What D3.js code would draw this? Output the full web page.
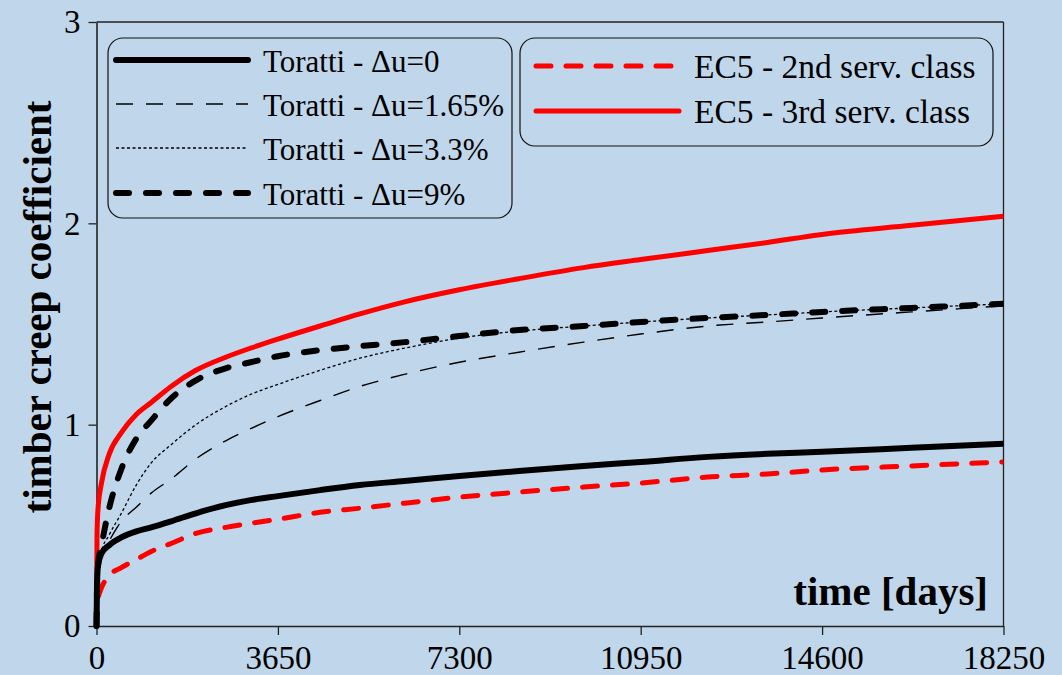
<!DOCTYPE html>
<html>
<head>
<meta charset="utf-8">
<script src="https://cdn.jsdelivr.net/npm/d3@7"></script>
<style>
  html, body { margin: 0; padding: 0; background: #c0d6ea; }
  svg { display: block; }
  text { font-family: "Liberation Serif", "Times New Roman", serif; fill: #000; }
</style>
</head>
<body>
<div id="chart"></div>
<script>
// ── Data ──
const days = [0, 10, 30, 100, 250, 500, 800, 1100, 1500, 2000, 2600, 3100, 3650, 4500, 5300, 6200, 7300, 8500, 9800, 10950, 12300, 13500, 14600, 16400, 18250];

const toratti0   = [0, 0.20, 0.30, 0.36, 0.40, 0.44, 0.47, 0.49, 0.52, 0.56, 0.60, 0.625, 0.645, 0.675, 0.70, 0.72, 0.745, 0.77, 0.795, 0.815, 0.84, 0.855, 0.865, 0.885, 0.905];
const toratti165 = [0, 0.15, 0.28, 0.35, 0.42, 0.52, 0.59, 0.66, 0.73, 0.83, 0.92, 0.98, 1.04, 1.12, 1.19, 1.25, 1.31, 1.36, 1.41, 1.45, 1.49, 1.51, 1.53, 1.56, 1.59];
const toratti33  = [0, 0.15, 0.28, 0.37, 0.45, 0.56, 0.70, 0.81, 0.90, 1.00, 1.09, 1.15, 1.20, 1.27, 1.33, 1.38, 1.43, 1.465, 1.49, 1.51, 1.53, 1.545, 1.56, 1.58, 1.60];
const toratti9   = [0, 0.18, 0.30, 0.40, 0.58, 0.78, 0.93, 1.02, 1.13, 1.22, 1.28, 1.31, 1.34, 1.37, 1.39, 1.41, 1.44, 1.47, 1.49, 1.51, 1.53, 1.545, 1.56, 1.58, 1.60];
const ec5Class2  = [0, 0.12, 0.14, 0.19, 0.25, 0.29, 0.33, 0.37, 0.41, 0.46, 0.49, 0.51, 0.53, 0.565, 0.585, 0.61, 0.64, 0.665, 0.69, 0.71, 0.74, 0.755, 0.775, 0.795, 0.815];
const ec5Class3  = [0, 0.45, 0.58, 0.71, 0.85, 0.96, 1.05, 1.11, 1.19, 1.27, 1.335, 1.38, 1.425, 1.49, 1.55, 1.61, 1.67, 1.725, 1.78, 1.82, 1.865, 1.905, 1.945, 1.99, 2.035];

const xTicks = [0, 3650, 7300, 10950, 14600, 18250];
const yTicks = [0, 1, 2, 3];

const legendLeft = ['Toratti - \u0394u=0', 'Toratti - \u0394u=1.65%', 'Toratti - \u0394u=3.3%', 'Toratti - \u0394u=9%'];
const legendRight = ['EC5 - 2nd serv. class', 'EC5 - 3rd serv. class'];

// line styles
const styles = {
  tor0:   { color: '#000', width: 6,   dash: null,    cap: 'round' },
  tor165: { color: '#000', width: 1.4, dash: '17,13', cap: 'butt' },
  tor33:  { color: '#000', width: 1.3, dash: '3,2.5', cap: 'butt' },
  tor9:   { color: '#000', width: 6,   dash: '13,17', cap: 'round' },
  ec2:    { color: '#ff0000', width: 5, dash: '15,15', cap: 'round' },
  ec3:    { color: '#ff0000', width: 5, dash: null,    cap: 'round' }
};

const series = [
  { key: 'ec2', values: ec5Class2 },
  { key: 'ec3', values: ec5Class3 },
  { key: 'tor165', values: toratti165 },
  { key: 'tor33', values: toratti33 },
  { key: 'tor9', values: toratti9 },
  { key: 'tor0', values: toratti0 }
];

// ── Layout ──
const W = 1062, H = 675;
const plotL = 96.5, plotR = 1003.5, plotT = 22, plotB = 626;

const svg = d3.select('#chart').append('svg').attr('width', W).attr('height', H);
svg.append('rect').attr('width', W).attr('height', H).attr('fill', '#c0d6ea');

const x = d3.scaleLinear().domain([0, 18250]).range([plotL, plotR]);
const y = d3.scaleLinear().domain([0, 3]).range([plotB, plotT]);

svg.append('clipPath').attr('id', 'plotClip')
  .append('rect').attr('x', plotL - 4).attr('y', plotT).attr('width', plotR - plotL + 4).attr('height', plotB - plotT + 4);

// frame (top and right)
svg.append('line').attr('x1', plotL).attr('x2', plotR).attr('y1', plotT).attr('y2', plotT).attr('stroke', '#222').attr('stroke-width', 1.3);
svg.append('line').attr('x1', plotR).attr('x2', plotR).attr('y1', plotT).attr('y2', plotB).attr('stroke', '#222').attr('stroke-width', 1.3);

// Axes
const xAxis = svg.append('g').attr('transform', 'translate(0,' + plotB + ')')
  .call(d3.axisBottom(x).tickValues(xTicks).tickFormat(d3.format('d'))
    .tickSize(9).tickSizeOuter(0).tickPadding(11));
const yAxis = svg.append('g').attr('transform', 'translate(' + plotL + ',0)')
  .call(d3.axisLeft(y).tickValues(yTicks).tickFormat(d3.format('d'))
    .tickSize(8).tickSizeOuter(0).tickPadding(8));
[xAxis, yAxis].forEach(a => {
  a.select('.domain').attr('stroke', '#222').attr('stroke-width', 1.6);
  a.selectAll('.tick line').attr('stroke', '#222').attr('stroke-width', 1.3);
  a.selectAll('.tick text').style('font-family', '"Liberation Serif", serif')
    .style('font-size', '33px').attr('fill', '#000');
});
yAxis.selectAll('.tick text').attr('dy', '0.33em');

// Curves
const line = d3.line().x(d => x(d[0])).y(d => y(d[1])).curve(d3.curveMonotoneX);
const plot = svg.append('g').attr('clip-path', 'url(#plotClip)');
series.forEach(s => {
  const st = styles[s.key];
  plot.append('path')
    .datum(days.map((t, i) => [t, s.values[i]]))
    .attr('d', line)
    .attr('fill', 'none')
    .attr('stroke', st.color)
    .attr('stroke-width', st.width)
    .attr('stroke-dasharray', st.dash)
    .attr('stroke-linecap', st.cap)
    .attr('stroke-linejoin', 'round');
});

// Axis titles
svg.append('text')
  .attr('transform', 'translate(51,307) rotate(-90)')
  .attr('text-anchor', 'middle')
  .style('font-size', '41px').style('font-weight', 'bold')
  .text('timber creep coefficient');
svg.append('text')
  .attr('x', 988).attr('y', 605)
  .attr('text-anchor', 'end')
  .style('font-size', '41px').style('font-weight', 'bold')
  .text('time [days]');

// ── Legends ──
function legendBox(x0, y0, w, h) {
  svg.append('rect').attr('x', x0).attr('y', y0).attr('width', w).attr('height', h)
    .attr('rx', 15).attr('ry', 15)
    .attr('fill', '#c0d6ea').attr('stroke', '#111').attr('stroke-width', 1.2);
}

legendBox(108, 38, 404, 180);
const leftKeys = ['tor0', 'tor165', 'tor33', 'tor9'];
const leftRows = [60, 104, 148, 193];
legendLeft.forEach((label, i) => {
  const st = styles[leftKeys[i]];
  svg.append('line').attr('x1', 116).attr('x2', 248).attr('y1', leftRows[i]).attr('y2', leftRows[i])
    .attr('stroke', st.color).attr('stroke-width', st.width)
    .attr('stroke-dasharray', st.dash).attr('stroke-linecap', st.cap);
  svg.append('text').attr('x', 263).attr('y', leftRows[i] + 12)
    .style('font-size', '31px').text(label);
});

legendBox(520, 38, 473, 108);
const rightKeys = ['ec2', 'ec3'];
const rightRows = [66, 111];
legendRight.forEach((label, i) => {
  const st = styles[rightKeys[i]];
  svg.append('line').attr('x1', 536).attr('x2', 679).attr('y1', rightRows[i]).attr('y2', rightRows[i])
    .attr('stroke', st.color).attr('stroke-width', st.width)
    .attr('stroke-dasharray', st.dash).attr('stroke-linecap', st.cap);
  svg.append('text').attr('x', 694).attr('y', rightRows[i] + 12)
    .style('font-size', '33.5px').text(label);
});
</script>
</body>
</html>
